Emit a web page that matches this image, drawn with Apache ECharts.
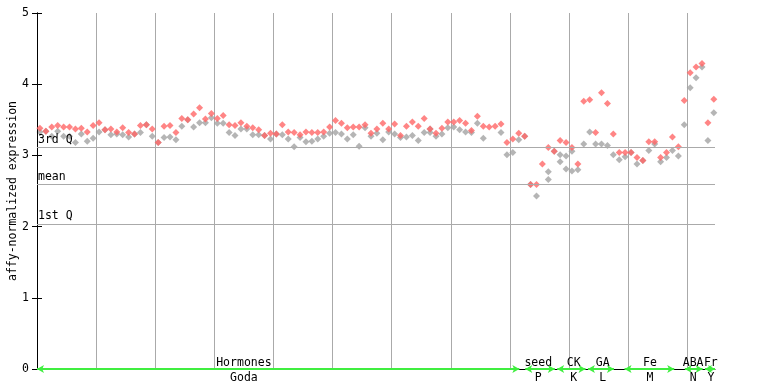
<!DOCTYPE html>
<html><head><meta charset="utf-8">
<script src="https://cdn.jsdelivr.net/npm/echarts@6/dist/echarts.min.js"></script>
<style>html,body{margin:0;padding:0;background:#fff}#c{width:768px;height:384px}</style>
</head><body><div id="c"></div>
<script>
// replicate values per sample (sample i sits at x = i + 0.5)
const rep1 = [3.38,3.34,3.40,3.42,3.40,3.40,3.37,3.38,3.33,3.42,
3.46,3.36,3.37,3.33,3.39,3.32,3.30,3.42,3.43,3.37,
3.18,3.41,3.42,3.32,3.52,3.50,3.58,3.67,3.51,3.59,
3.52,3.56,3.43,3.42,3.46,3.41,3.39,3.36,3.28,3.31,
3.30,3.43,3.33,3.32,3.29,3.33,3.32,3.32,3.33,3.40,
3.49,3.45,3.39,3.40,3.40,3.43,3.31,3.37,3.45,3.37,
3.44,3.28,3.41,3.47,3.41,3.52,3.37,3.31,3.38,3.47,
3.47,3.49,3.45,3.35,3.55,3.41,3.40,3.41,3.44,3.18,
3.23,3.31,3.27,2.59,2.59,2.88,3.11,3.06,3.21,3.18,
3.11,2.88,3.76,3.78,3.32,3.88,3.73,3.30,3.04,3.04,
3.04,2.97,2.93,3.19,3.19,2.97,3.04,3.26,3.12,3.77,
4.16,4.24,4.29,3.46,3.79];
const rep2 = [3.33,3.34,3.27,3.34,3.27,3.27,3.18,3.30,3.20,3.24,
3.33,3.36,3.29,3.30,3.29,3.26,3.30,3.32,3.43,3.27,
3.18,3.25,3.26,3.22,3.41,3.50,3.40,3.46,3.46,3.53,
3.45,3.45,3.32,3.28,3.37,3.37,3.29,3.29,3.28,3.23,
3.30,3.29,3.23,3.12,3.25,3.19,3.20,3.23,3.27,3.31,
3.32,3.30,3.23,3.29,3.13,3.39,3.27,3.31,3.22,3.33,
3.30,3.25,3.26,3.28,3.21,3.32,3.32,3.27,3.30,3.39,
3.40,3.36,3.33,3.32,3.45,3.24,null,null,3.32,3.01,
3.04,3.22,3.27,2.59,2.43,null,2.77,3.06,3.01,2.99,
3.06,2.80,3.16,3.33,3.16,3.16,3.14,3.01,2.94,2.98,
3.04,2.88,2.93,3.07,3.16,2.91,2.97,3.07,2.99,3.43,
3.95,4.09,4.24,3.21,3.60];
const rep3 = {86:2.66, 88:2.91, 89:2.81, 90:2.78, 66:3.37};

const refNames = ['3rd Q','mean','1st Q'];
const refValues = [3.108, 2.59, 2.042];

const groupTop    = ['Hormones','seed','CK','GA','Fe','ABA','Fr'];
const groupBottom = ['Goda','P','K','L','M','N','Y'];
const groupStart  = [0, 82.6, 88.0, 93.2, 99.4, 109.6, 113.0];
const groupEnd    = [81.6, 87.6, 92.8, 97.6, 107.8, 112.6, 114.7];
const groupLabelAt = [35, 84.8, 90.8, 95.7, 103.7, 111.0, 114.0];

const X_MAX = 114.7;
const FONT = 'DejaVu Sans Mono';
const FS = 11.5;

function pts(arr){ const out=[]; arr.forEach((v,i)=>{ if(v!=null) out.push([i+0.5, v]); }); return out; }
const pts3 = Object.keys(rep3).map(k => [Number(k)+0.5, rep3[k]]);

const chart = echarts.init(document.getElementById('c'), null, {renderer:'canvas'});
const option = {
  animation:false,
  backgroundColor:'#fff',
  grid:{left:37, right:53, top:13, bottom:15, containLabel:false, outerBoundsMode:'none'},
  xAxis:[
    {type:'value', min:0, max:X_MAX, interval:10, z:0,
     axisLine:{show:false}, axisTick:{show:false}, axisLabel:{show:false},
     splitLine:{show:true, showMinLine:false, showMaxLine:false, lineStyle:{color:'#aaaaaa', width:1}}},
    {type:'value', position:'top', min:0, max:X_MAX, z:3,
     axisLine:{show:true, lineStyle:{color:'#000', width:1}}, axisTick:{show:false}, axisLabel:{show:false}, splitLine:{show:false}}
  ],
  yAxis:[
    {type:'value', position:'left', min:0, max:5, interval:1, z:3,
     axisLine:{show:true, lineStyle:{color:'#000', width:1}},
     axisTick:{show:true, inside:true, length:5, lineStyle:{color:'#000'}},
     axisLabel:{color:'#000', fontFamily:FONT, fontSize:FS, margin:8},
     splitLine:{show:false},
     name:'affy-normalized expression', nameLocation:'middle', nameGap:18, nameMoveOverlap:false,
     nameTextStyle:{color:'#000', fontFamily:FONT, fontSize:FS}},
    {type:'value', position:'right', min:0, max:5, interval:1, z:3,
     axisLine:{show:true, lineStyle:{color:'#000', width:1}},
     axisTick:{show:true, inside:true, length:5, lineStyle:{color:'#000'}},
     axisLabel:{show:false}, splitLine:{show:false}}
  ],
  series:[
    {type:'scatter', name:'ref', data:[], silent:true, clip:false,
     markLine:{silent:true, symbol:'none', animation:false,
       lineStyle:{color:'#aaaaaa', width:1, type:'solid'},
       label:{show:true, position:'insideStartTop', distance:[1,2], color:'#000', fontFamily:FONT, fontSize:FS,
              formatter:p=>p.name},
       data: refNames.map((n,i)=>({name:n, yAxis:refValues[i]}))}},
    {type:'scatter', name:'rep2', data:pts(rep2), symbol:'diamond', symbolSize:7, z:2,
     itemStyle:{color:'#a2a2a2'}},
    {type:'scatter', name:'rep3', data:pts3, symbol:'diamond', symbolSize:7, z:2,
     itemStyle:{color:'#a2a2a2'}},
    {type:'scatter', name:'rep1', data:pts(rep1), symbol:'diamond', symbolSize:7, z:3,
     itemStyle:{color:'#ff6666'}},
    {type:'scatter', name:'groups', data:[], silent:true, clip:false, z:5,
     markLine:{silent:true, animation:false, symbol:['arrow','arrow'], symbolSize:[6,7],
       lineStyle:{color:'#40ee40', width:2, type:'solid'}, label:{show:false},
       data: groupStart.map((s,i)=>[{coord:[s,0]},{coord:[groupEnd[i],0]}])}}
  ]
};
chart.setOption(option);

const graphics = [];
groupTop.forEach((t,i)=>{
  const px = chart.convertToPixel({xAxisIndex:0}, groupLabelAt[i]);
  graphics.push({type:'text', x:px, y:363, style:{text:t, fill:'#000', font:FS+'px "'+FONT+'"', textAlign:'center', textVerticalAlign:'middle'}, z:10});
  graphics.push({type:'text', x:px, y:378, style:{text:groupBottom[i], fill:'#000', font:FS+'px "'+FONT+'"', textAlign:'center', textVerticalAlign:'middle'}, z:10});
});
chart.setOption({graphic:graphics});
</script></body></html>
